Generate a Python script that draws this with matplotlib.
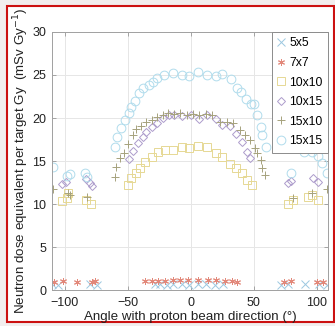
import matplotlib
matplotlib.use("Agg")
import matplotlib.pyplot as plt
from matplotlib.patches import Rectangle

plt.rcParams['font.family'] = ['Liberation Sans', 'DejaVu Sans']

# --- data (angle in degrees, dose in mSv/Gy) ---
ang_5x5 = [-110, -105.5, -80, -74, -28.5, -24.5, -19, -14, -7, -1, 5.5, 12.5, 19, 25.5,
           72, 77, 90.5, 102, 108.5]
val_5x5 = [0.7, 0.6, 0.7, 0.6, 0.7, 0.7, 0.6, 0.7, 0.7, 0.6, 0.7, 0.7, 0.6, 0.7,
           0.6, 0.7, 0.7, 0.7, 0.6]

ang_7x7 = [-108, -101.5, -90.5, -78.5, -76, -36.5, -31, -26, -20.5, -14, -8.5, -2,
           5.5, 13.5, 20.5, 27, 32.5, 37, 74.5, 80, 100, 105]
val_7x7 = [1.0, 1.1, 1.0, 1.0, 1.1, 1.1, 1.1, 1.1, 1.1, 1.2, 1.2, 1.2,
           1.2, 1.2, 1.2, 1.1, 1.1, 1.0, 1.0, 1.1, 1.0, 1.0]

ang_10x10 = [-102, -98, -97, -83, -79, -50, -47, -43, -40, -36.5, -31, -26, -20.5, -14,
             -7, -1, 6, 13, 20, 25, 31, 36, 40.5, 44.5, 48.5, 77, 81, 93, 96, 101]
val_10x10 = [10.4, 10.7, 11.3, 10.5, 10.0, 12.2, 13.0, 13.6, 14.2, 14.9, 15.5, 16.0, 16.3, 16.3,
             16.6, 16.5, 16.7, 16.6, 15.9, 15.5, 14.7, 14.2, 13.6, 12.8, 12.2, 10.0, 10.5, 10.8, 11.0, 10.5]

ang_10x15 = [-102, -98.5, -83, -80, -78, -49, -46, -42, -38, -35, -31, -27, -22, -17,
             -13.5, -7, 0, 7, 13, 20, 25, 31, 36, 40.5, 44.5, 47.5, 77, 80, 97, 101]
val_10x15 = [12.3, 12.6, 12.9, 12.4, 12.1, 15.2, 16.2, 17.1, 17.8, 18.4, 19.0, 19.4, 20.0, 20.3,
             20.3, 20.2, 20.3, 19.9, 20.3, 19.9, 19.2, 19.1, 18.1, 17.2, 16.0, 15.3, 12.4, 12.7, 13.0, 12.6]

ang_15x10 = [-109, -97.5, -96, -82, -60, -59, -56, -53, -50, -46, -43, -39, -35, -31, -27,
             -22, -18, -13, -8, -3, 2, 7, 12, 17, 23, 29, 34, 39, 43, 47, 51, 53, 56, 57, 59,
             81, 96, 108]
val_15x10 = [11.8, 11.3, 11.0, 10.8, 13.2, 14.3, 15.3, 15.9, 17.0, 18.0, 18.7, 19.1, 19.5, 19.8, 20.1,
             20.3, 20.6, 20.5, 20.6, 20.4, 20.5, 20.3, 20.5, 20.3, 19.5, 19.5, 19.4, 18.6, 18.0, 17.4,
             16.5, 15.9, 15.1, 14.2, 13.4, 10.7, 11.3, 11.8]

ang_15x15 = [-109, -98, -96, -84, -82, -60, -58, -55, -52, -49, -47, -44, -41, -38, -33, -30,
             -27, -21, -14, -7, -1, 6, 13, 20, 25, 32, 36.5, 40, 44, 48, 50, 53, 56, 57, 60,
             80, 90, 96, 101, 104, 108]
val_15x15 = [14.3, 13.3, 13.5, 13.6, 13.1, 16.6, 17.8, 18.8, 19.8, 20.6, 21.3, 22.0, 22.9, 23.5,
             23.8, 24.2, 24.6, 25.0, 25.2, 25.0, 24.9, 25.4, 25.0, 24.9, 25.1, 24.5, 23.5, 23.0,
             22.2, 21.6, 21.6, 20.3, 19.0, 18.0, 16.6, 13.6, 16.0, 16.0, 15.6, 14.8, 13.6]

fig = plt.figure(figsize=(3.35, 3.26), dpi=100, facecolor='#f2eeee')
# framed white panel with red border, kept behind the axes
fig.patches.append(Rectangle((0.021, 0.012), 0.976, 0.969, transform=fig.transFigure,
                             facecolor='white', edgecolor='#cc1111', linewidth=1.5, zorder=-10))

ax = fig.add_axes([0.155, 0.110, 0.824, 0.792])
ax.set_facecolor('white')

ax.plot(ang_5x5, val_5x5, 'x', color='#9cc8e0', ms=5.5, mew=0.7, label='5x5')
ax.plot(ang_7x7, val_7x7, marker=(6, 2, 0), ls='none', color='#e2887a', ms=5, mew=0.7, label='7x7')
ax.plot(ang_10x10, val_10x10, 's', color='#e6d894', ms=5.5, mew=0.7, mfc='none', label='10x10')
ax.plot(ang_10x15, val_10x15, 'D', color='#ad9ccc', ms=4.2, mew=0.7, mfc='none', label='10x15')
ax.plot(ang_15x10, val_15x10, '+', color='#a6a27c', ms=6, mew=0.7, label='15x10')
ax.plot(ang_15x15, val_15x15, 'o', color='#b0dcec', ms=6.3, mew=0.7, mfc='none', label='15x15')

ax.set_xlim(-110, 109)
ax.set_ylim(0, 30)
ax.set_xticks([-100, -50, 0, 50, 100])
ax.set_yticks([0, 5, 10, 15, 20, 25, 30])
ax.grid(True, color='#e6e6e6', linewidth=0.7)
ax.set_axisbelow(True)
ax.tick_params(direction='in', top=True, right=True, length=3, width=0.6,
               colors='#999999', labelcolor='#222222', labelsize=9)
ax.tick_params(axis='x', pad=5)
ax.tick_params(axis='y', pad=4)
for s in ax.spines.values():
    s.set_color('#a0a0a0')
    s.set_linewidth(0.7)

ax.set_xlabel('Angle with proton beam direction (°)', fontsize=9.6, color='#222222', labelpad=1.5)
ax.set_ylabel('Neutron dose equivalent per target Gy  (mSv Gy$^{-1}$)', fontsize=9.6,
              color='#222222', labelpad=1)

leg = ax.legend(loc='upper right', bbox_to_anchor=(1.0, 1.0), borderaxespad=0,
                fontsize=8.8, handlelength=0.6, handletextpad=0.35, labelspacing=0.62,
                borderpad=0.45, fancybox=False, framealpha=1, edgecolor='#8c8c8c')
leg.get_frame().set_linewidth(0.7)

fig.savefig('out.png', dpi=100, facecolor=fig.get_facecolor())
